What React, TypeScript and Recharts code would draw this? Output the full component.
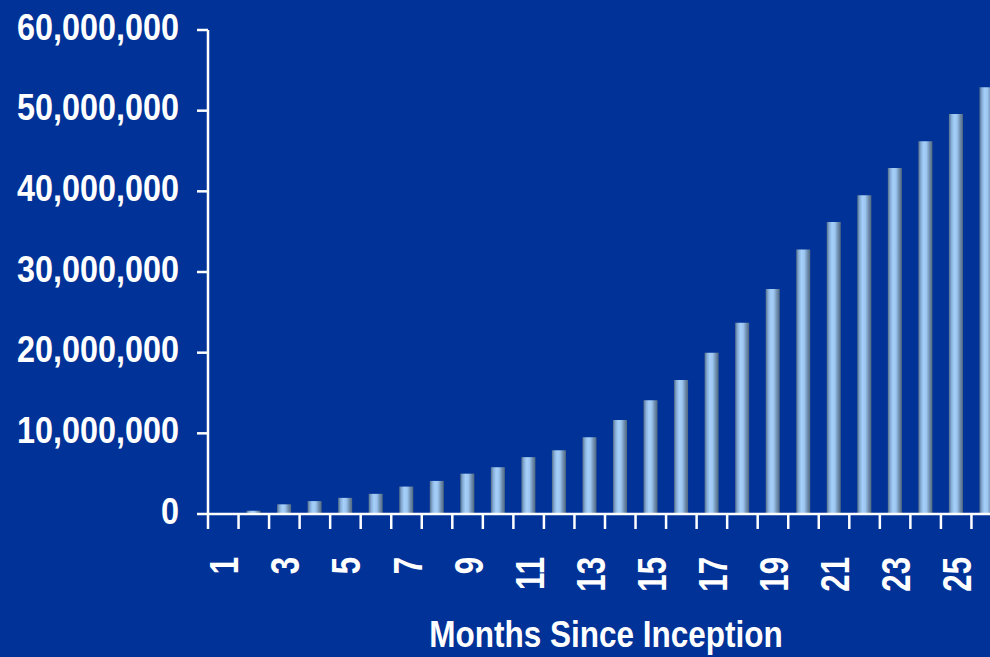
import React from "react";
import { BarChart, Bar, XAxis, YAxis } from "recharts";

const months: string[] = ["1","2","3","4","5","6","7","8","9","10","11","12","13","14","15","16","17","18","19","20","21","22","23","24","25","26"];
const subscribers: number[] = [0, 400000, 1200000, 1600000, 2000000, 2500000, 3400000, 4100000, 5000000, 5800000, 7050000, 7900000, 9500000, 11650000, 14100000, 16600000, 20000000, 23700000, 27900000, 32800000, 36200000, 39500000, 42900000, 46200000, 49600000, 52900000];
const yTicks: number[] = [0, 10000000, 20000000, 30000000, 40000000, 50000000, 60000000];
const xTitle = "Months Since Inception";

const data = months.map((m, i) => ({ month: m, value: subscribers[i] }));

const BG = "#013298";
const FONT = "'Liberation Sans', Arial, sans-serif";

const fmt = (v: number) => v.toLocaleString("en-US");

const YTick = (props: any) => {
  const { x, y, payload } = props;
  return (
    <g transform={`translate(${x + 1},${y + 9.5}) scale(0.9,1.02)`}>
      <text x={0} y={0} textAnchor="end" fill="#fff" fontSize={36} fontWeight="bold" fontFamily={FONT}>
        {fmt(payload.value)}
      </text>
    </g>
  );
};

const XTick = (props: any) => {
  const { x, payload, index, visibleTicksCount } = props;
  const half = payload && payload.offset ? payload.offset : 15.28;
  const showLabel = Number(payload.value) % 2 === 1;
  const isLast = index === (visibleTicksCount ? visibleTicksCount - 1 : 25);
  return (
    <g>
      <line x1={x - half} x2={x - half} y1={514} y2={529} stroke="#fff" strokeWidth={2.5} />
      {isLast && <line x1={x + half} x2={x + half} y1={514} y2={529} stroke="#fff" strokeWidth={2.5} />}
      {showLabel && (
        <g transform={`translate(${x + 15},557) rotate(-90) scale(0.76,1)`}>
          <text x={0} y={0} textAnchor="end" fill="#fff" fontSize={41} fontWeight="bold" fontFamily={FONT}>
            {payload.value}
          </text>
        </g>
      )}
    </g>
  );
};

const TitleLabel = (props: any) => {
  const vb = props.viewBox || { x: 208, width: 794 };
  const cx = vb.x + vb.width / 2;
  return (
    <g transform={`translate(${cx + 1},647) scale(0.84,1)`}>
      <text x={0} y={0} textAnchor="middle" fill="#fff" fontSize={37.5} fontWeight="bold" fontFamily={FONT}>
        {xTitle}
      </text>
    </g>
  );
};

export default function App() {
  return (
    <div style={{ position: "fixed", left: 0, top: 0, width: 990, height: 657, overflow: "hidden", background: BG }}>
      <BarChart width={1010} height={657} data={data} margin={{ top: 30, right: 8, left: 0, bottom: 0 }} barSize={14}>
        <defs>
          <linearGradient id="barGrad" x1="0" y1="0" x2="1" y2="0">
            <stop offset="0%" stopColor="#566f8a" />
            <stop offset="18%" stopColor="#86aed8" />
            <stop offset="38%" stopColor="#a6d0fa" />
            <stop offset="58%" stopColor="#9cc5ef" />
            <stop offset="82%" stopColor="#6c8aab" />
            <stop offset="100%" stopColor="#52697f" />
          </linearGradient>
        </defs>
        <XAxis
          dataKey="month"
          interval={0}
          height={143}
          tickLine={false}
          axisLine={{ stroke: "#fff", strokeWidth: 2.5 }}
          tick={<XTick />}
          label={{ content: <TitleLabel /> }}
        />
        <YAxis
          width={208}
          domain={[0, 60000000]}
          ticks={yTicks}
          interval={0}
          tickSize={11}
          tickMargin={19}
          tickLine={{ stroke: "#fff", strokeWidth: 2.5 }}
          axisLine={{ stroke: "#fff", strokeWidth: 2.5 }}
          tick={<YTick />}
        />
        <Bar dataKey="value" fill="url(#barGrad)" isAnimationActive={false} />
      </BarChart>
    </div>
  );
}
